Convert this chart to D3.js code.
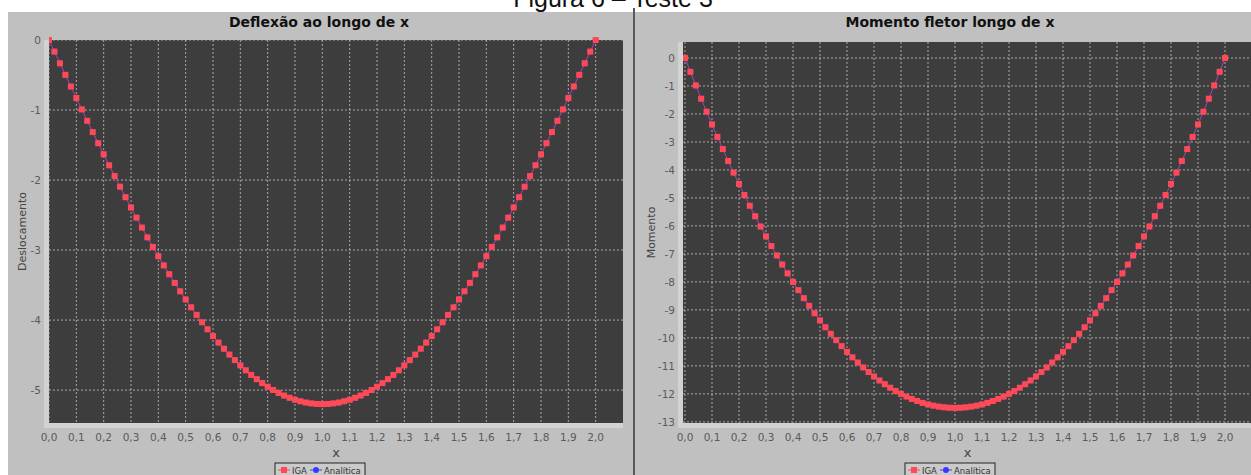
<!DOCTYPE html>
<html><head><meta charset="utf-8">
<script src="https://cdn.jsdelivr.net/npm/d3@7"></script>
<style>html,body{margin:0;padding:0;background:#fff;overflow:hidden}</style>
</head><body>
<svg id="c" width="1251" height="475"></svg>
<script>
// ---- data ----
const figureTitle = "Figura 6 – Teste 3";
const seriesNames = ["IGA", "Analítica"];
const xTicks = [0,0.1,0.2,0.3,0.4,0.5,0.6,0.7,0.8,0.9,1.0,1.1,1.2,1.3,1.4,1.5,1.6,1.7,1.8,1.9,2.0];
const deflTicks = [0,-1,-2,-3,-4,-5];
const momTicks = [0,-1,-2,-3,-4,-5,-6,-7,-8,-9,-10,-11,-12,-13];
const xStart = 0, xEnd = 2;
const deflIGA = [0,-0.166,-0.333,-0.498,-0.664,-0.828,-0.991,-1.154,-1.315,-1.474,-1.632,-1.789,-1.943,-2.095,-2.245,-2.392,-2.537,-2.679,-2.819,-2.955,-3.088,-3.219,-3.345,-3.469,-3.589,-3.705,-3.818,-3.926,-4.031,-4.132,-4.228,-4.321,-4.409,-4.493,-4.572,-4.647,-4.717,-4.783,-4.844,-4.900,-4.952,-4.999,-5.041,-5.078,-5.110,-5.138,-5.160,-5.178,-5.190,-5.198,-5.200,
 -5.198,-5.190,-5.178,-5.160,-5.138,-5.110,-5.078,-5.041,-4.999,-4.952,-4.900,-4.844,-4.783,-4.717,-4.647,-4.572,-4.493,-4.409,-4.321,-4.228,-4.132,-4.031,-3.926,-3.818,-3.705,-3.589,-3.469,-3.345,-3.219,-3.088,-2.955,-2.819,-2.679,-2.537,-2.392,-2.245,-2.095,-1.943,-1.789,-1.632,-1.474,-1.315,-1.154,-0.991,-0.828,-0.664,-0.498,-0.333,-0.166,0];
const deflAnalitica = deflIGA.slice(); // coincides with IGA in the picture
const momIGA = [0,-0.495,-0.98,-1.455,-1.92,-2.375,-2.82,-3.255,-3.68,-4.095,-4.5,-4.895,-5.28,-5.655,-6.02,-6.375,-6.72,-7.055,-7.38,-7.695,-8.0,-8.295,-8.58,-8.855,-9.12,-9.375,-9.62,-9.855,-10.08,-10.295,-10.5,-10.695,-10.88,-11.055,-11.22,-11.375,-11.52,-11.655,-11.78,-11.895,-12.0,-12.095,-12.18,-12.255,-12.32,-12.375,-12.42,-12.455,-12.48,-12.495,-12.5,
 -12.495,-12.48,-12.455,-12.42,-12.375,-12.32,-12.255,-12.18,-12.095,-12.0,-11.895,-11.78,-11.655,-11.52,-11.375,-11.22,-11.055,-10.88,-10.695,-10.5,-10.295,-10.08,-9.855,-9.62,-9.375,-9.12,-8.855,-8.58,-8.295,-8.0,-7.695,-7.38,-7.055,-6.72,-6.375,-6.02,-5.655,-5.28,-4.895,-4.5,-4.095,-3.68,-3.255,-2.82,-2.375,-1.92,-1.455,-0.98,-0.495,0];
const momAnalitica = momIGA.slice();

// ---- drawing ----
const svg = d3.select("#c");
svg.append("rect").attr("width",1251).attr("height",475).attr("fill","#fff");

svg.append("text").attr("x",613).attr("y",7).attr("text-anchor","middle")
  .attr("font-family","Liberation Sans, Arial, sans-serif").attr("font-size",25)
  .attr("fill","#111").text(figureTitle);

const fmt = d => d3.format(".1f")(d).replace(".", ",");

function chart(cfg){
  const g = svg.append("g");
  g.append("rect").attr("x",cfg.px).attr("y",12).attr("width",cfg.pw).attr("height",470)
    .attr("fill","#c0c0c0");
  const x = d3.scaleLinear().domain([0,2.1]).range(cfg.xr);
  const y = d3.scaleLinear().domain(cfg.yd).range([423,cfg.top]);
  const L = cfg.plotL, R = Math.min(cfg.xr[1], 1251);
  // axis strips
  g.append("rect").attr("x",L-5).attr("y",cfg.top).attr("width",5).attr("height",423-cfg.top+5).attr("fill","#d2d2d2");
  g.append("rect").attr("x",L-5).attr("y",423).attr("width",R-L+5).attr("height",5).attr("fill","#d2d2d2");
  // plot bg
  g.append("rect").attr("x",L).attr("y",cfg.top).attr("width",R-L).attr("height",423-cfg.top).attr("fill","#3d3d3d");
  // grid
  g.selectAll(".vg").data(xTicks).join("line")
    .attr("x1",d=>x(d)).attr("x2",d=>x(d)).attr("y1",cfg.top).attr("y2",423)
    .attr("stroke","#c4c4c4").attr("stroke-width",0.8).attr("stroke-dasharray","2,2");
  g.selectAll(".hg").data(cfg.yTicks).join("line")
    .attr("x1",L).attr("x2",R).attr("y1",d=>y(d)).attr("y2",d=>y(d))
    .attr("stroke","#c4c4c4").attr("stroke-width",0.8).attr("stroke-dasharray","2,2");
  // tick labels
  g.selectAll(".xt").data(xTicks).join("text")
    .attr("x",d=>x(d)).attr("y",441).attr("text-anchor","middle")
    .attr("font-family","DejaVu Sans, sans-serif").attr("font-size",10.5)
    .attr("fill","#5a5a5a").text(fmt);
  g.selectAll(".yt").data(cfg.yTicks).join("text")
    .attr("x",L-8).attr("y",d=>y(d)+4).attr("text-anchor","end")
    .attr("font-family","DejaVu Sans, sans-serif").attr("font-size",10.5)
    .attr("fill","#5a5a5a").text(d=>String(d));
  // axis labels
  g.append("text").attr("x",(L+cfg.xr[1])/2).attr("y",457).attr("text-anchor","middle")
    .attr("font-family","DejaVu Sans, sans-serif").attr("font-size",13).attr("fill","#444").text("x");
  g.append("text").attr("transform",`translate(${cfg.ylx},${(cfg.top+423)/2}) rotate(-90)`)
    .attr("text-anchor","middle").attr("font-family","DejaVu Sans, sans-serif").attr("font-size",11)
    .attr("fill","#444").text(cfg.ylabel);
  // title
  g.append("text").attr("x",cfg.tx).attr("y",27).attr("text-anchor","middle")
    .attr("font-family","DejaVu Sans, sans-serif").attr("font-weight","bold").attr("font-size",14)
    .attr("fill","#111").text(cfg.title);
  // series
  const n = cfg.iga.length;
  const xs = i => xStart + i*(xEnd-xStart)/(n-1);
  const clip = "clip"+cfg.id;
  g.append("clipPath").attr("id",clip).append("rect").attr("x",L).attr("y",cfg.top-4).attr("width",R-L+4).attr("height",423-cfg.top+4);
  const pg = g.append("g").attr("clip-path",`url(#${clip})`);
  const line = d3.line().x((d,i)=>x(xs(i))).y(d=>y(d));
  pg.append("path").attr("d",line(cfg.ana)).attr("fill","none").attr("stroke","#3a3aff").attr("stroke-width",1);
  pg.selectAll(".ac").data(cfg.ana).join("circle").attr("cx",(d,i)=>x(xs(i))).attr("cy",d=>y(d)).attr("r",3).attr("fill","#4040ff");
  pg.append("path").attr("d",line(cfg.iga)).attr("fill","none").attr("stroke","#ff4a55").attr("stroke-opacity",0.55).attr("stroke-width",1);
  pg.selectAll(".is").data(cfg.iga).join("rect").attr("x",(d,i)=>x(xs(i))-3).attr("y",d=>y(d)-3)
    .attr("width",6).attr("height",6).attr("fill","#ff4a55");
  // legend
  const lg = g.append("g").attr("transform",`translate(${cfg.lx},463)`);
  lg.append("rect").attr("x",0).attr("y",0).attr("width",90).attr("height",16).attr("fill","#cacaca").attr("stroke","#222").attr("stroke-width",1);
  lg.append("line").attr("x1",3).attr("x2",15).attr("y1",7).attr("y2",7).attr("stroke","#ff4a55");
  lg.append("rect").attr("x",6).attr("y",4).attr("width",6).attr("height",6).attr("fill","#ff4a55");
  lg.append("text").attr("x",17).attr("y",11).attr("font-family","DejaVu Sans, sans-serif").attr("font-size",8.5).attr("fill","#333").text(seriesNames[0]);
  lg.append("line").attr("x1",35).attr("x2",47).attr("y1",7).attr("y2",7).attr("stroke","#3a3aff");
  lg.append("circle").attr("cx",41).attr("cy",7).attr("r",3).attr("fill","#3a3aff");
  lg.append("text").attr("x",49).attr("y",11).attr("font-family","DejaVu Sans, sans-serif").attr("font-size",8.5).attr("fill","#333").text(seriesNames[1]);
}

chart({id:"L", px:8, pw:625, top:40, plotL:49, xr:[49,623], yd:[-5.47,0], yTicks:deflTicks,
  ylabel:"Deslocamento", ylx:26, title:"Deflexão ao longo de x", tx:319, lx:275,
  iga:deflIGA, ana:deflAnalitica});
chart({id:"R", px:635, pw:616, top:42, plotL:683, xr:[685,1252], yd:[-13.04,0.57], yTicks:momTicks,
  ylabel:"Momento", ylx:655, title:"Momento fletor longo de x", tx:950, lx:905,
  iga:momIGA, ana:momAnalitica});

svg.append("line").attr("x1",634).attr("x2",634).attr("y1",8).attr("y2",475).attr("stroke","#222").attr("stroke-width",1.5);
</script>
</body></html>
